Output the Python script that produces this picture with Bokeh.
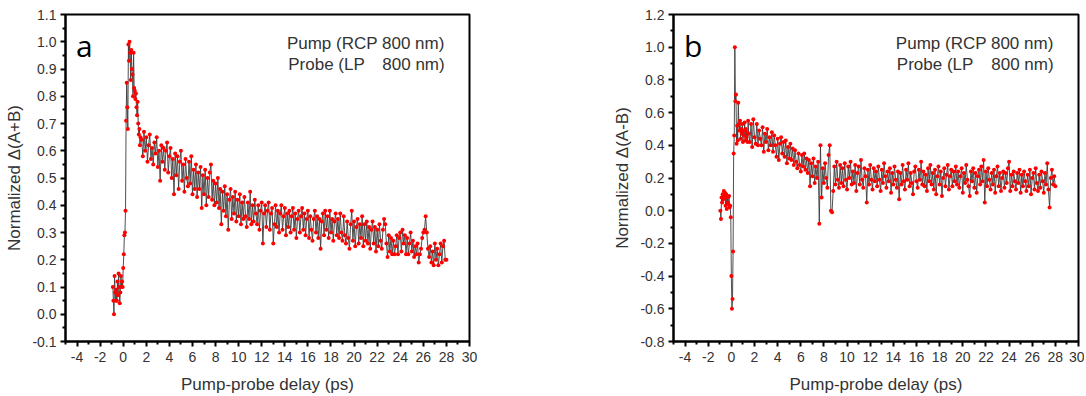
from bokeh.plotting import figure
from bokeh.layouts import row
from bokeh.models import FixedTicker, PrintfTickFormatter, Label, Range1d
from bokeh.embed import file_html
from bokeh.resources import INLINE

# ---------------- data ----------------
x_ticks = [-4, -2, 0, 2, 4, 6, 8, 10, 12, 14, 16, 18, 20, 22, 24, 26, 28, 30]
x_minor = [-5, -3, -1, 1, 3, 5, 7, 9, 11, 13, 15, 17, 19, 21, 23, 25, 27, 29]
ya_ticks = [-0.1, 0.0, 0.1, 0.2, 0.3, 0.4, 0.5, 0.6, 0.7, 0.8, 0.9, 1.0, 1.1]
yb_ticks = [-0.8, -0.6, -0.4, -0.2, 0.0, 0.2, 0.4, 0.6, 0.8, 1.0, 1.2]

# panel a : early part (delay in ps, value)
a_early_t = [-0.9, -0.85, -0.8, -0.75, -0.7, -0.65, -0.6, -0.55, -0.5, -0.45,
             -0.4, -0.35, -0.3, -0.25, -0.2, -0.15, -0.1, -0.05,
             0.0, 0.05, 0.1, 0.15, 0.2, 0.25, 0.3, 0.35, 0.4, 0.45, 0.5, 0.55,
             0.6, 0.65, 0.7, 0.75, 0.8, 0.85, 0.9, 0.95, 1.0, 1.05, 1.1, 1.15,
             1.2, 1.25, 1.3, 1.35, 1.4, 1.45, 1.5]
a_early_v = [0.10, 0.05, 0.00, 0.14, 0.08, 0.05, 0.09, 0.05, 0.12, 0.07,
             0.15, 0.10, 0.04, 0.08, 0.14, 0.10, 0.12, 0.10,
             0.17, 0.22, 0.29, 0.30, 0.38, 0.71, 0.85, 0.76, 0.68, 0.99, 0.93, 1.00,
             0.96, 0.86, 0.97, 0.90, 0.88, 0.80, 0.96, 0.83, 0.82, 0.79, 0.81, 0.76,
             0.73, 0.78, 0.70, 0.66, 0.68, 0.62, 0.65]

# panel a : 1.6 ps .. 28.0 ps, 0.1 ps steps
a_late_v = [
    0.64, 0.58, 0.67, 0.60, 0.65, 0.56, 0.62, 0.66, 0.57, 0.61,
    0.55, 0.63, 0.59, 0.65, 0.54, 0.60, 0.49, 0.62, 0.56, 0.61,
    0.53, 0.60, 0.63, 0.52, 0.58, 0.61, 0.50, 0.57, 0.44, 0.59,
    0.51, 0.58, 0.46, 0.56, 0.60, 0.49, 0.55, 0.45, 0.57, 0.50,
    0.47, 0.56, 0.48, 0.58, 0.44, 0.53, 0.46, 0.55, 0.43, 0.52,
    0.46, 0.54, 0.39, 0.51, 0.44, 0.53, 0.40, 0.50, 0.43, 0.52,
    0.55, 0.42, 0.49, 0.40, 0.48, 0.41, 0.50, 0.39, 0.46, 0.33,
    0.45, 0.38, 0.47, 0.36, 0.44, 0.31, 0.42, 0.46, 0.35, 0.43,
    0.37, 0.45, 0.34, 0.42, 0.36, 0.44, 0.33, 0.41, 0.35, 0.43,
    0.36, 0.32, 0.41, 0.35, 0.45, 0.33, 0.40, 0.34, 0.42, 0.37,
    0.33, 0.40, 0.31, 0.38, 0.41, 0.26, 0.37, 0.40, 0.32, 0.38,
    0.41, 0.31, 0.37, 0.39, 0.26, 0.33, 0.40, 0.32, 0.38, 0.30,
    0.37, 0.40, 0.31, 0.36, 0.39, 0.29, 0.37, 0.32, 0.38, 0.30,
    0.36, 0.39, 0.31, 0.37, 0.28, 0.35, 0.38, 0.30, 0.36, 0.39,
    0.31, 0.37, 0.29, 0.35, 0.38, 0.28, 0.36, 0.31, 0.27, 0.35,
    0.38, 0.30, 0.36, 0.28, 0.35, 0.24, 0.34, 0.37, 0.29, 0.38,
    0.31, 0.36, 0.28, 0.38, 0.30, 0.35, 0.27, 0.34, 0.37, 0.29,
    0.35, 0.28, 0.37, 0.30, 0.27, 0.36, 0.29, 0.26, 0.34, 0.28,
    0.24, 0.33, 0.38, 0.27, 0.34, 0.25, 0.32, 0.35, 0.26, 0.33,
    0.28, 0.36, 0.25, 0.33, 0.27, 0.34, 0.26, 0.32, 0.24, 0.31,
    0.34, 0.26, 0.32, 0.23, 0.31, 0.25, 0.33, 0.27, 0.24, 0.31,
    0.35, 0.33, 0.26, 0.21, 0.29, 0.23, 0.28, 0.22, 0.27, 0.22,
    0.25, 0.29, 0.22, 0.28, 0.30, 0.23, 0.31, 0.26, 0.29, 0.22,
    0.28, 0.22, 0.26, 0.30, 0.23, 0.27, 0.21, 0.25, 0.22, 0.26,
    0.19, 0.22, 0.24, 0.28, 0.30, 0.31, 0.36, 0.30, 0.24, 0.21,
    0.25, 0.19, 0.23, 0.18, 0.26, 0.20, 0.24, 0.18, 0.22, 0.26,
    0.19, 0.25, 0.27, 0.20, 0.20]

# panel b : early part
b_early_t = [-0.95, -0.9, -0.85, -0.8, -0.75, -0.7, -0.65, -0.6, -0.55, -0.5,
             -0.45, -0.4, -0.35, -0.3, -0.25, -0.2, -0.15, -0.1, -0.05,
             0.0, 0.05, 0.1, 0.15, 0.2, 0.25, 0.3, 0.35, 0.4, 0.45, 0.5, 0.55,
             0.6, 0.65, 0.7, 0.75, 0.8, 0.85, 0.9, 0.95, 1.0, 1.05, 1.1, 1.15,
             1.2, 1.25, 1.3, 1.35, 1.4, 1.45, 1.5]
b_early_v = [0.00, -0.05, 0.08, 0.05, 0.10, 0.07, 0.12, 0.09, 0.11, 0.03,
             0.10, 0.01, 0.08, 0.05, 0.04, 0.09, 0.02, 0.03, -0.04,
             -0.40, -0.60, -0.54, -0.25, 0.35, 0.46, 1.00, 0.67, 0.71, 0.41, 0.52, 0.43,
             0.66, 0.53, 0.49, 0.55, 0.44, 0.50, 0.47, 0.53, 0.42, 0.49, 0.46, 0.54,
             0.43, 0.50, 0.45, 0.48, 0.42, 0.55, 0.47]

# panel b : 1.6 ps .. 28.0 ps, 0.1 ps steps
b_late_v = [
    0.42, 0.53, 0.39, 0.56, 0.45, 0.41, 0.53, 0.40, 0.49, 0.44,
    0.40, 0.51, 0.36, 0.47, 0.42, 0.50, 0.37, 0.45, 0.40, 0.48,
    0.36, 0.46, 0.40, 0.33, 0.44, 0.31, 0.41, 0.45, 0.35, 0.42,
    0.33, 0.43, 0.29, 0.39, 0.32, 0.41, 0.31, 0.38, 0.28, 0.37,
    0.30, 0.26, 0.35, 0.28, 0.24, 0.34, 0.27, 0.35, 0.25, 0.32,
    0.23, 0.31, 0.15, 0.29, 0.21, 0.32, 0.17, 0.27, 0.20, 0.30,
    -0.08, 0.40, 0.08, 0.26, 0.17, 0.29, 0.20, 0.14, 0.34, 0.40,
    0.00, -0.01, 0.12, 0.27, 0.16, 0.30, 0.19, 0.14, 0.28, 0.17,
    0.26, 0.15, 0.29, 0.19, 0.13, 0.27, 0.20, 0.30, 0.16, 0.24,
    0.17, 0.28, 0.12, 0.23, 0.27, 0.16, 0.31, 0.19, 0.14, 0.26,
    0.21, 0.05, 0.25, 0.16, 0.28, 0.19, 0.13, 0.26, 0.18, 0.24,
    0.15, 0.27, 0.19, 0.12, 0.25, 0.17, 0.29, 0.21, 0.14, 0.24,
    0.18, 0.26, 0.11, 0.23, 0.16, 0.27, 0.19, 0.14, 0.24, 0.07,
    0.23, 0.16, 0.28, 0.18, 0.13, 0.25, 0.19, 0.29, 0.15, 0.23,
    0.17, 0.10, 0.24, 0.27, 0.18, 0.14, 0.25, 0.19, 0.30, 0.16,
    0.24, 0.15, 0.22, 0.12, 0.26, 0.18, 0.28, 0.16, 0.23, 0.13,
    0.25, 0.10, 0.21, 0.27, 0.16, 0.24, 0.09, 0.20, 0.26, 0.15,
    0.22, 0.28, 0.13, 0.21, 0.25, 0.15, 0.24, 0.18, 0.27, 0.16,
    0.24, 0.14, 0.21, 0.26, 0.11, 0.23, 0.17, 0.28, 0.19, 0.15,
    0.09, 0.24, 0.18, 0.26, 0.14, 0.23, 0.11, 0.21, 0.25, 0.16,
    0.27, 0.18, 0.31, 0.05, 0.24, 0.15, 0.26, 0.19, 0.13, 0.23,
    0.16, 0.25, 0.11, 0.21, 0.27, 0.15, 0.23, 0.12, 0.20, 0.24,
    0.14, 0.23, 0.17, 0.26, 0.30, 0.12, 0.22, 0.15, 0.24, 0.18,
    0.13, 0.23, 0.17, 0.25, 0.11, 0.22, 0.15, 0.24, 0.18, 0.12,
    0.22, 0.15, 0.25, 0.10, 0.20, 0.23, 0.13, 0.26, 0.17, 0.12,
    0.22, 0.14, 0.24, 0.18, 0.11, 0.23, 0.16, 0.29, 0.13, 0.02,
    0.20, 0.25, 0.16, 0.21, 0.15]

late_start, late_step = 1.6, 0.1   # delay-stage grid of the late part
a_late_t = [round(late_start + late_step * i, 2) for i in range(len(a_late_v))]
b_late_t = [round(late_start + late_step * i, 2) for i in range(len(b_late_v))]

a_t = a_early_t + a_late_t
a_v = a_early_v + a_late_v
b_t = b_early_t + b_late_t
b_v = b_early_v + b_late_v

FONT = "Liberation Sans"
TXT = "#333333"


def make_panel(t, v, y_range, y_ticks, ylabel, letter, letter_y, leg_y1, leg_y2,
               frame_w, left, right):
    p = figure(frame_width=frame_w, frame_height=327,
               x_range=Range1d(-5, 30), y_range=Range1d(*y_range),
               output_backend="svg", toolbar_location=None,
               min_border_left=left, min_border_right=right,
               min_border_top=14, min_border_bottom=53,
               background_fill_color="white", border_fill_color="white")
    p.xgrid.visible = False
    p.ygrid.visible = False
    p.outline_line_color = "black"
    p.outline_line_width = 2
    p.outline_line_alpha = 1.0

    step = y_ticks[1] - y_ticks[0]
    y_minor = [round(y + step / 2, 3) for y in [y_range[0] - step] + y_ticks]
    p.xaxis.ticker = FixedTicker(ticks=x_ticks, minor_ticks=x_minor)
    p.yaxis.ticker = FixedTicker(ticks=y_ticks, minor_ticks=y_minor)
    p.xaxis.formatter = PrintfTickFormatter(format="%d")
    p.yaxis.formatter = PrintfTickFormatter(format="%.1f")

    for ax in (p.xaxis[0], p.yaxis[0]):
        ax.axis_line_width = 2
        ax.axis_line_color = "black"
        ax.major_tick_line_color = "black"
        ax.major_tick_line_width = 2
        ax.major_tick_in = 0
        ax.major_tick_out = 5
        ax.minor_tick_line_color = "black"
        ax.minor_tick_line_width = 2
        ax.minor_tick_in = 0
        ax.minor_tick_out = 3
        ax.major_label_text_font = FONT
        ax.major_label_text_font_size = "14px"
        ax.major_label_text_color = TXT
        ax.axis_label_text_font = FONT
        ax.axis_label_text_font_size = "17px"
        ax.axis_label_text_font_style = "normal"
        ax.axis_label_text_color = TXT
    p.xaxis.major_label_standoff = 5
    p.xaxis.axis_label_standoff = 10
    p.yaxis.major_label_standoff = 4
    p.yaxis.axis_label_standoff = 5
    p.xaxis.axis_label = "Pump-probe delay (ps)"
    p.yaxis.axis_label = ylabel

    p.line(t, v, line_color="#3c3c3c", line_width=0.9)
    p.scatter(t, v, marker="circle", size=4, fill_color="#ff0000", line_color=None)

    p.add_layout(Label(x=-4.1, y=letter_y, text=letter, text_font="Open Sans",
                       text_font_size="30px", text_color="black",
                       text_baseline="alphabetic"))
    p.add_layout(Label(x=27.85, y=leg_y1, text="Pump (RCP 800 nm)", text_font=FONT,
                       text_font_size="17px", text_color=TXT, text_align="right",
                       text_baseline="alphabetic"))
    p.add_layout(Label(x=14.3, y=leg_y2, text="Probe (LP", text_font=FONT,
                       text_font_size="17px", text_color=TXT, text_align="left",
                       text_baseline="alphabetic"))
    p.add_layout(Label(x=27.85, y=leg_y2, text="800 nm)", text_font=FONT,
                       text_font_size="17px", text_color=TXT, text_align="right",
                       text_baseline="alphabetic"))
    return p


pa = make_panel(a_t, a_v, (-0.1, 1.1), ya_ticks, "Normalized \u0394(A+B)", "a",
                0.986, 0.994, 0.917, 404, 65, 90)
pb = make_panel(b_t, b_v, (-0.8, 1.2), yb_ticks, "Normalized \u0394(A-B)", "b",
                1.01, 1.023, 0.894, 405, 114, 6)

layout = row(pa, pb)
open("out.html", "w").write(file_html(layout, INLINE))
